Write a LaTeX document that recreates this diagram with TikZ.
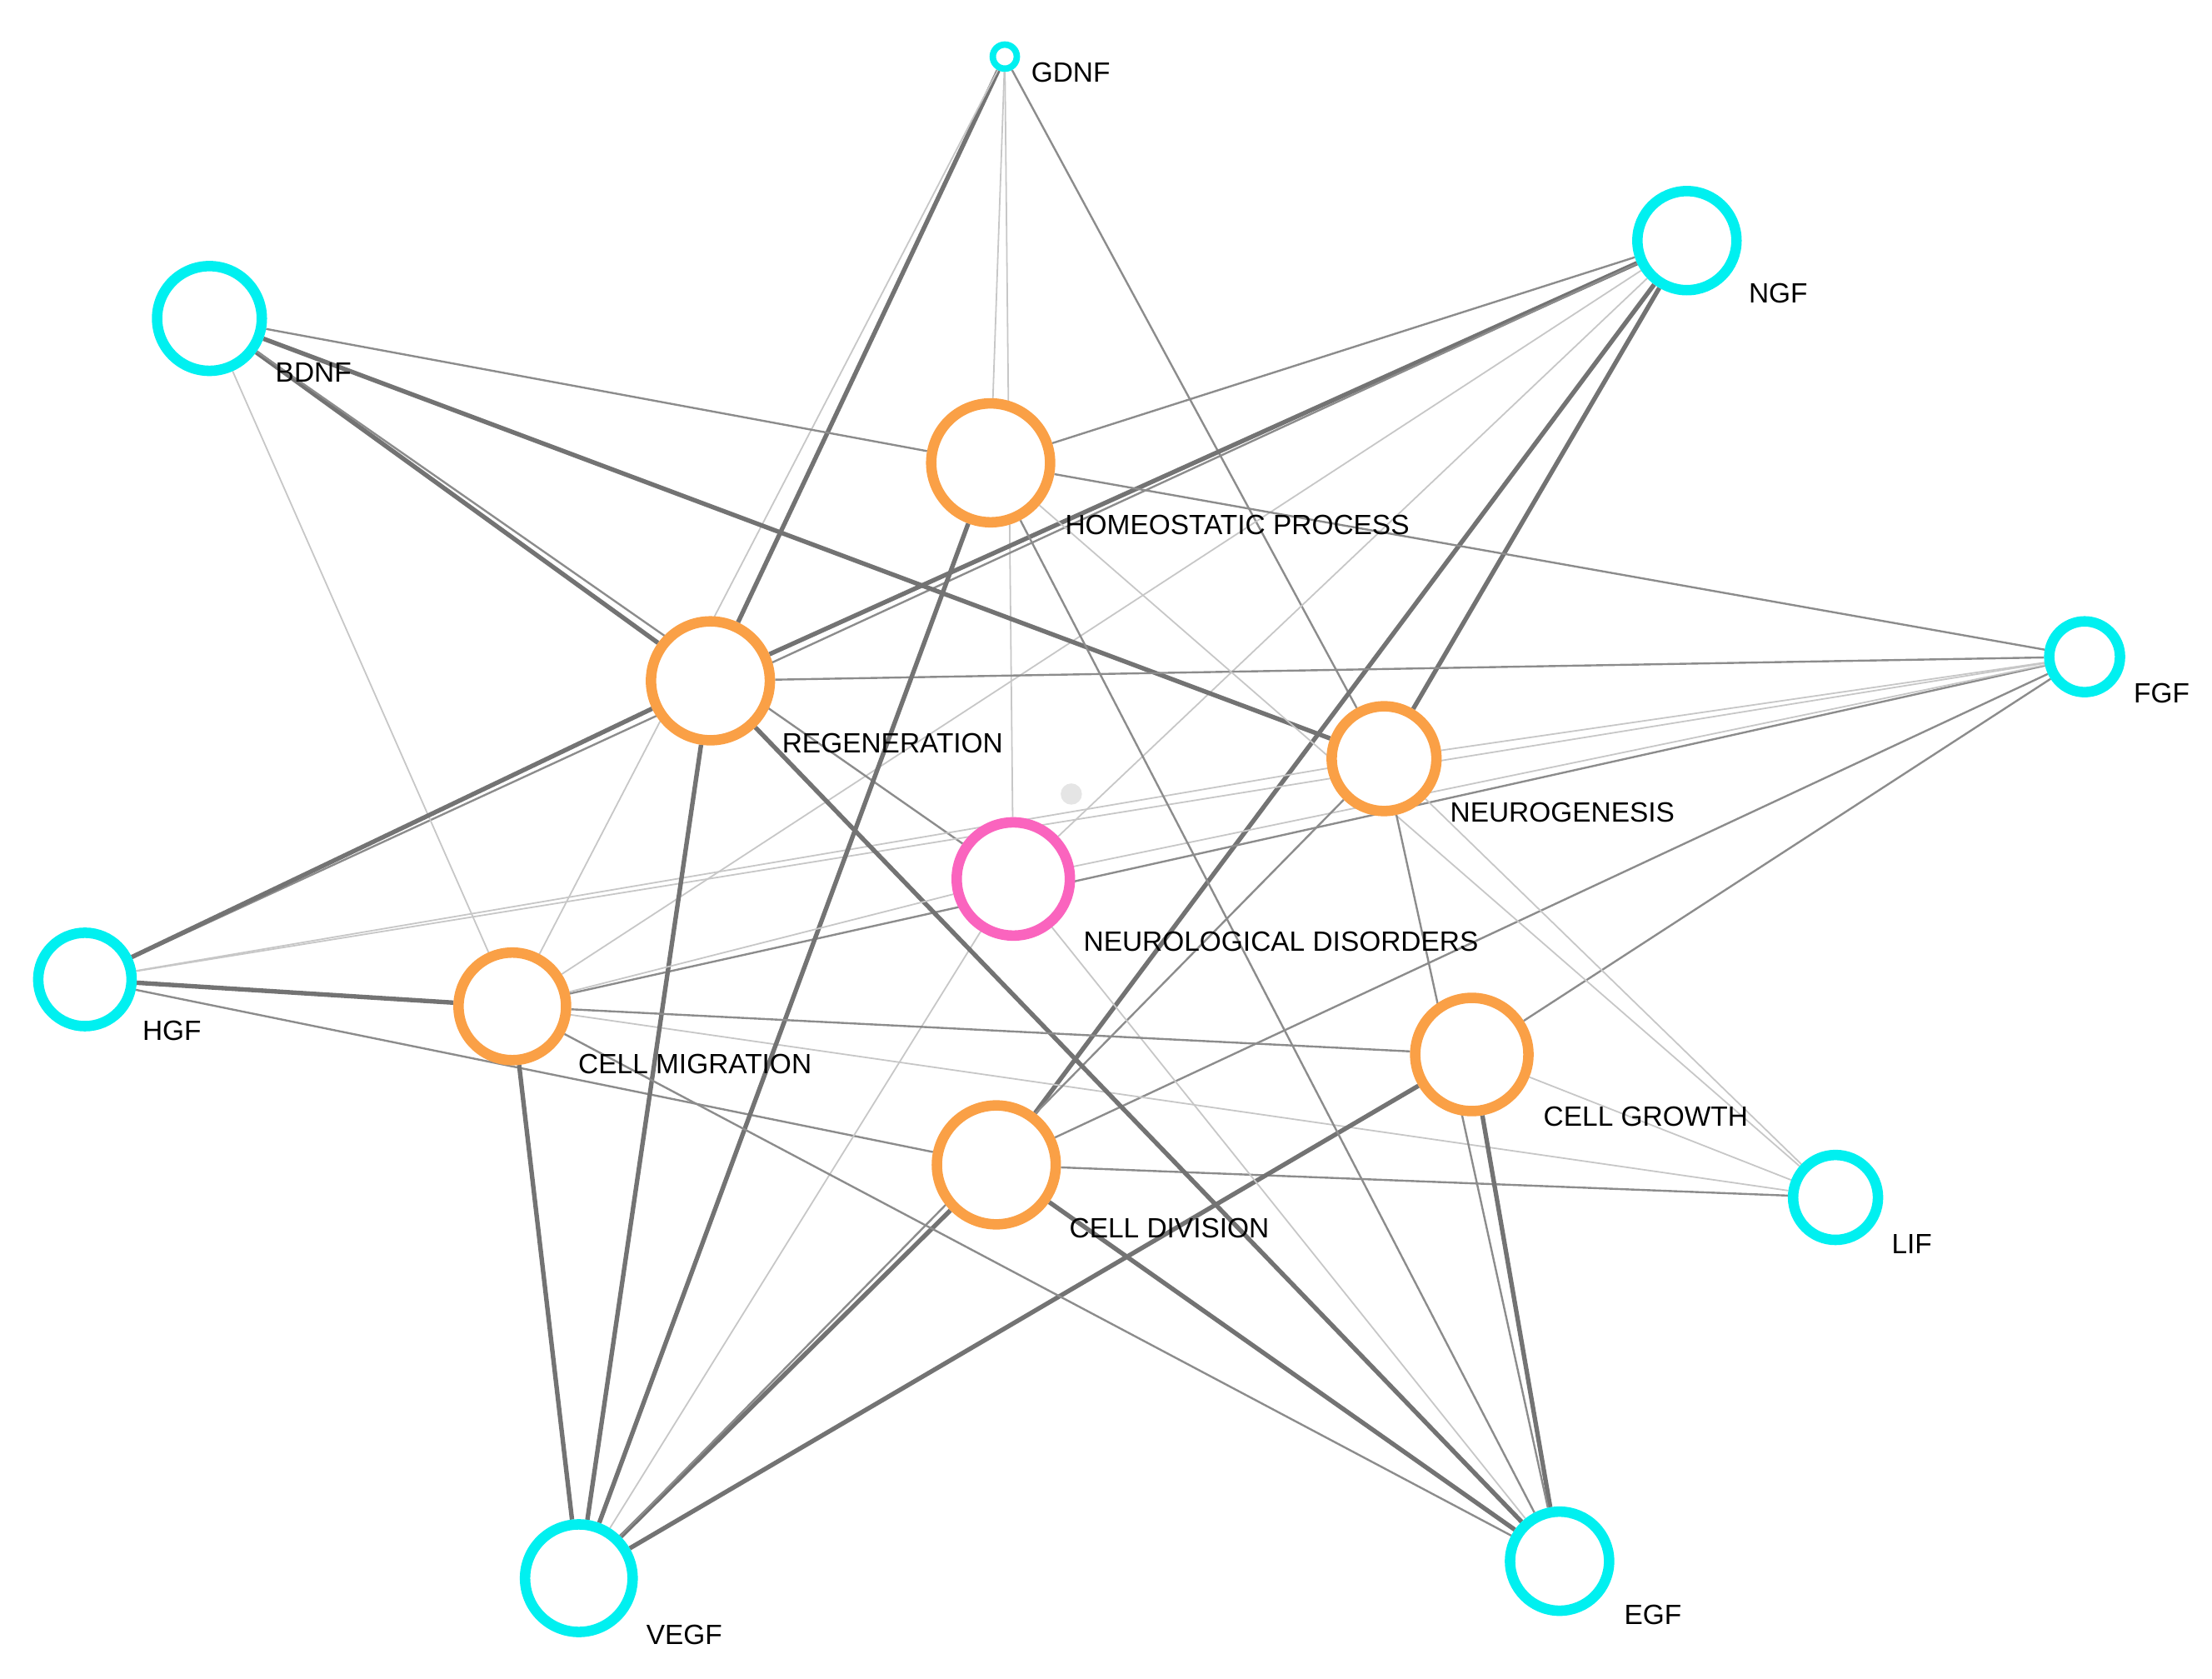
\documentclass[tikz,border=0pt]{standalone}
\usepackage{fontspec}
\setmainfont{Liberation Sans}
\usetikzlibrary{backgrounds}
\begin{document}
\begin{tikzpicture}[
 gf/.style={circle,draw={rgb,255:red,0;green,240;blue,240},line width=2.1pt,fill=white,inner sep=0pt},
 pr/.style={circle,draw={rgb,255:red,250;green,160;blue,70},line width=2.1pt,fill=white,inner sep=0pt,minimum size=0.8cm},
 lb/.style={anchor=west,font=\fontsize{5.6}{7}\selectfont,inner sep=0pt},
 lt/.style={draw=black!22,line width=0.3pt},
 md/.style={draw=black!45,line width=0.4pt},
 tk/.style={draw=black!55,line width=0.9pt}]
\useasboundingbox (0,0) rectangle (15.63,-11.86);
\node[gf,minimum size=0.17cm,line width=1.3pt] (gdnf) at (7.10,-0.40) {};
\node[gf,minimum size=0.7cm] (ngf) at (11.92,-1.70) {};
\node[gf,minimum size=0.74cm] (bdnf) at (1.48,-2.25) {};
\node[pr,minimum size=0.84cm] (hom) at (7.00,-3.27) {};
\node[pr,minimum size=0.84cm] (reg) at (5.02,-4.81) {};
\node[gf,minimum size=0.5cm] (fgf) at (14.73,-4.64) {};
\node[pr,minimum size=0.74cm] (neu) at (9.78,-5.36) {};
\node[circle,draw={rgb,255:red,250;green,100;blue,190},line width=2.1pt,fill=white,minimum size=0.8cm,inner sep=0pt] (nd) at (7.16,-6.21) {};
\node[gf,minimum size=0.66cm] (hgf) at (0.60,-6.92) {};
\node[pr,minimum size=0.76cm] (mig) at (3.62,-7.11) {};
\node[pr,minimum size=0.8cm] (gro) at (10.40,-7.45) {};
\node[pr,minimum size=0.84cm] (div) at (7.04,-8.23) {};
\node[gf,minimum size=0.6cm] (lif) at (12.97,-8.46) {};
\node[gf,minimum size=0.76cm] (vegf) at (4.09,-11.15) {};
\node[gf,minimum size=0.7cm] (egf) at (11.02,-11.03) {};
\node[circle,fill=black!10,minimum size=0.15cm,inner sep=0pt] (dot) at (7.57,-5.61) {};
\node[lb] (l1) at (7.28,-0.51) {GDNF};
\node[lb] (l2) at (12.35,-2.07) {NGF};
\node[lb] (l3) at (1.94,-2.63) {BDNF};
\node[lb] (l4) at (7.52,-3.71) {HOMEOSTATIC PROCESS};
\node[lb] (l5) at (15.07,-4.90) {FGF};
\node[lb] (l6) at (5.52,-5.25) {REGENERATION};
\node[lb] (l7) at (10.24,-5.74) {NEUROGENESIS};
\node[lb] (l8) at (7.65,-6.65) {NEUROLOGICAL DISORDERS};
\node[lb] (l9) at (1.00,-7.28) {HGF};
\node[lb] (l10) at (4.08,-7.52) {CELL MIGRATION};
\node[lb] (l11) at (10.90,-7.89) {CELL GROWTH};
\node[lb] (l12) at (7.55,-8.68) {CELL DIVISION};
\node[lb] (l13) at (13.36,-8.79) {LIF};
\node[lb] (l14) at (4.56,-11.55) {VEGF};
\node[lb] (l15) at (11.47,-11.41) {EGF};
\begin{scope}[on background layer]
\draw[tk] (gdnf)--(reg);
\draw[lt] (gdnf)--(mig); \draw[lt] (gdnf)--(hom); \draw[lt] (gdnf)--(nd); \draw[md] (gdnf)--(neu);
\draw[md] (ngf)--(hom); \draw[tk] (ngf)--(reg); \draw[md] (ngf)--(hgf); \draw[lt] (ngf)--(mig);
\draw[lt] (ngf)--(nd); \draw[tk] (ngf)--(div); \draw[tk] (ngf)--(neu);
\draw[md] (bdnf)--(hom); \draw[tk] (bdnf)--(reg); \draw[tk] (bdnf)--(neu); \draw[lt] (bdnf)--(mig);
\draw[md] (bdnf)--(nd);
\draw[md] (fgf)--(hom); \draw[md] (fgf)--(reg); \draw[lt] (fgf)--(neu); \draw[lt] (fgf)--(hgf);
\draw[md] (fgf)--(mig); \draw[md] (fgf)--(div); \draw[md] (fgf)--(gro); \draw[lt] (fgf)--(nd);
\draw[tk] (hgf)--(reg); \draw[tk] (hgf)--(mig); \draw[md] (hgf)--(div); \draw[lt] (hgf)--(neu);
\draw[lt] (lif)--(neu); \draw[lt] (lif)--(mig); \draw[md] (lif)--(div); \draw[lt] (lif)--(hom); \draw[lt] (lif)--(gro);
\draw[tk] (vegf)--(mig); \draw[tk] (vegf)--(reg); \draw[tk] (vegf)--(hom); \draw[tk] (vegf)--(div);
\draw[tk] (vegf)--(gro); \draw[lt] (vegf)--(nd); \draw[md] (vegf)--(neu);
\draw[md] (egf)--(mig); \draw[tk] (egf)--(reg); \draw[md] (egf)--(hom); \draw[tk] (egf)--(div);
\draw[tk] (egf)--(gro); \draw[md] (egf)--(neu); \draw[lt] (egf)--(nd);
\draw[md] (mig)--(gro); \draw[lt] (mig)--(nd);
\end{scope}
\end{tikzpicture}
\end{document}
